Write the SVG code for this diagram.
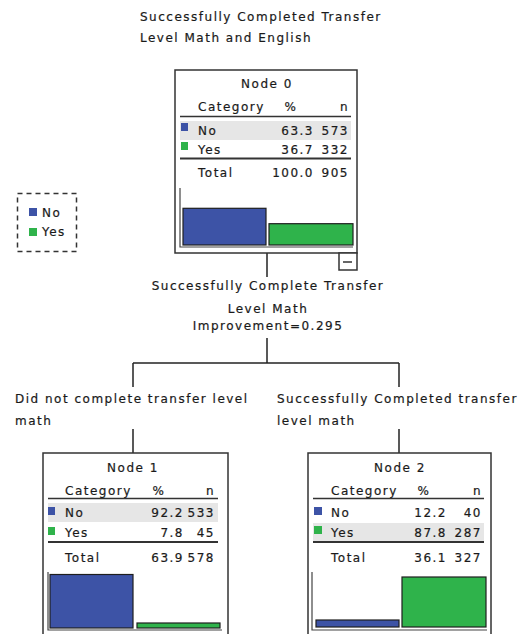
<svg xmlns="http://www.w3.org/2000/svg" width="521" height="634" viewBox="0 0 521 634">
  <style>
    text { font-family: "DejaVu Sans", "Liberation Sans", sans-serif; font-size: 12px; letter-spacing: 1.5px; fill: #1a1a1a; stroke: #1a1a1a; stroke-width: 0.2; }
    .mid { text-anchor: middle; }
    .end { text-anchor: end; }
    .box { fill: #fff; stroke: #333; stroke-width: 1.5; }
    .rule { stroke: #333; stroke-width: 1.5; }
    .rule2 { stroke: #333; stroke-width: 2; }
    .axis { stroke: #444; stroke-width: 1.2; fill: none; }
    .hl { fill: #e6e6e6; }
    .no { fill: #3d53a6; }
    .yes { fill: #2fb34b; }
    .bar { stroke: #1e1e1e; stroke-width: 1.2; }
    .conn { stroke: #222; stroke-width: 1.5; fill: none; }
  </style>

  <rect width="521" height="634" fill="#fff"/>

  <!-- target variable title -->
  <g id="title">
    <text x="140" y="21">Successfully Completed Transfer</text>
    <text x="140" y="42">Level Math and English</text>
  </g>

  <!-- legend -->
  <g id="legend">
    <rect x="17.5" y="193.5" width="59" height="58" fill="none" stroke="#333" stroke-width="1.5" stroke-dasharray="5 4"/>
    <rect x="29" y="208" width="8" height="8" class="no"/>
    <text x="42" y="217">No</text>
    <rect x="29" y="228" width="8" height="8" class="yes"/>
    <text x="42" y="236">Yes</text>
  </g>

  <!-- connectors -->
  <g id="connectors">
    <line x1="267" y1="253" x2="267" y2="277" class="conn"/>
    <line x1="267" y1="338" x2="267" y2="363" class="conn"/>
    <line x1="133" y1="363" x2="399" y2="363" class="conn"/>
    <line x1="133" y1="363" x2="133" y2="387" class="conn"/>
    <line x1="399" y1="363" x2="399" y2="387" class="conn"/>
    <line x1="133" y1="429" x2="133" y2="453" class="conn"/>
    <line x1="399" y1="429" x2="399" y2="453" class="conn"/>
  </g>

  <!-- split and branch labels -->
  <g id="split-labels">
    <text x="268" y="290" class="mid">Successfully Complete Transfer</text>
    <text x="268" y="313" class="mid">Level Math</text>
    <text x="268" y="330" class="mid">Improvement=0.295</text>
    <text x="15" y="403">Did not complete transfer level</text>
    <text x="15" y="425">math</text>
    <text x="277" y="403">Successfully Completed transfer</text>
    <text x="277" y="425">level math</text>
  </g>

  <!-- Node 0 -->
  <g id="node0" transform="translate(175,70)">
    <rect x="0" y="0" width="182" height="183" class="box"/>
    <text x="92" y="18" class="mid">Node 0</text>
    <text x="23" y="41">Category</text>
    <text x="116" y="41" class="mid">%</text>
    <text x="174" y="41" class="end">n</text>
    <line x1="5" y1="46.5" x2="176" y2="46.5" class="rule"/>
    <rect x="5" y="51" width="171" height="19" class="hl"/>
    <rect x="6" y="53" width="7" height="8" class="no"/>
    <text x="23" y="65">No</text>
    <text x="139" y="65" class="end">63.3</text>
    <text x="174" y="65" class="end">573</text>
    <rect x="6" y="72" width="7" height="8" class="yes"/>
    <text x="23" y="84">Yes</text>
    <text x="139" y="84" class="end">36.7</text>
    <text x="174" y="84" class="end">332</text>
    <line x1="5" y1="88.5" x2="176" y2="88.5" class="rule2"/>
    <text x="23" y="107">Total</text>
    <text x="139" y="107" class="end">100.0</text>
    <text x="174" y="107" class="end">905</text>
    <polyline points="5,118 5,177 178,177" class="axis"/>
    <rect x="8" y="138.3" width="83" height="36.7" class="no bar"/>
    <rect x="94" y="153.7" width="84" height="21.3" class="yes bar"/>
    <rect x="164" y="183" width="18" height="17" class="box"/>
    <line x1="168" y1="192" x2="177" y2="192" class="rule"/>
  </g>

  <!-- Node 1 -->
  <g id="node1" transform="translate(43,453)">
    <rect x="0" y="0" width="185" height="186" class="box"/>
    <text x="90" y="19" class="mid">Node 1</text>
    <text x="22" y="42">Category</text>
    <text x="116" y="42" class="mid">%</text>
    <text x="172" y="42" class="end">n</text>
    <line x1="5" y1="45.5" x2="175" y2="45.5" class="rule"/>
    <rect x="5" y="50" width="170" height="19" class="hl"/>
    <rect x="5" y="54" width="7" height="8" class="no"/>
    <text x="22" y="64">No</text>
    <text x="141" y="64" class="end">92.2</text>
    <text x="172" y="64" class="end">533</text>
    <rect x="5" y="74" width="7" height="8" class="yes"/>
    <text x="22" y="84">Yes</text>
    <text x="141" y="84" class="end">7.8</text>
    <text x="172" y="84" class="end">45</text>
    <line x1="5" y1="89" x2="175" y2="89" class="rule2"/>
    <text x="22" y="109">Total</text>
    <text x="141" y="109" class="end">63.9</text>
    <text x="172" y="109" class="end">578</text>
    <polyline points="5,119 5,177 179,177" class="axis"/>
    <rect x="7" y="121.5" width="83" height="53.5" class="no bar"/>
    <rect x="94" y="170" width="83" height="5" class="yes bar"/>
  </g>

  <!-- Node 2 -->
  <g id="node2" transform="translate(308,453)">
    <rect x="0" y="0" width="183" height="186" class="box"/>
    <text x="92" y="19" class="mid">Node 2</text>
    <text x="23" y="42">Category</text>
    <text x="116" y="42" class="mid">%</text>
    <text x="174" y="42" class="end">n</text>
    <line x1="5" y1="45.5" x2="176" y2="45.5" class="rule"/>
    <rect x="5" y="70" width="171" height="18" class="hl"/>
    <rect x="6" y="54" width="8" height="8" class="no"/>
    <text x="23" y="64">No</text>
    <text x="139" y="64" class="end">12.2</text>
    <text x="174" y="64" class="end">40</text>
    <rect x="6" y="73" width="8" height="8" class="yes"/>
    <text x="23" y="84">Yes</text>
    <text x="139" y="84" class="end">87.8</text>
    <text x="174" y="84" class="end">287</text>
    <line x1="5" y1="89" x2="176" y2="89" class="rule2"/>
    <text x="23" y="109">Total</text>
    <text x="139" y="109" class="end">36.1</text>
    <text x="174" y="109" class="end">327</text>
    <polyline points="4,119 4,177 179,177" class="axis"/>
    <rect x="8" y="167" width="83" height="7" class="no bar"/>
    <rect x="94" y="124" width="84" height="50" class="yes bar"/>
  </g>
</svg>
